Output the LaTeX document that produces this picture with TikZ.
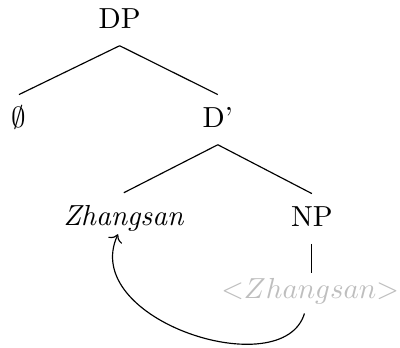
\documentclass[tikz,border=0pt]{standalone}
\usepackage{tikz}
\usetikzlibrary{arrows.meta,positioning,calc}
\definecolor{traceGray}{RGB}{190,190,190}

\begin{document}
\begin{tikzpicture}[
      cat/.style={anchor=base,inner sep=3pt,text height=8pt,text depth=2.9pt},
      trace/.style={text=traceGray},
      branch/.style={line width=0.4pt},
      move/.style={->,line width=0.4pt}
    ]
    \useasboundingbox (0,0) rectangle (4.848,-4.206);
    \node[cat] (dp) at (1.45,-0.34) {DP};
    \node[cat] (null) at (0.23,-1.54) {$\emptyset$};
    \node[cat] (dbar) at (2.64,-1.54) {D'};
    \node[cat] (zh) at (1.50,-2.73) {\textit{Zhangsan}};
    \node[cat] (np) at (3.78,-2.74) {NP};
    \node[cat,trace] (zhtr) at (3.76,-3.62) {${<}Zhangsan{>}$};
    \draw[branch] (dp.south) -- (null.north);
    \draw[branch] (dp.south) -- (dbar.north);
    \draw[branch] (dbar.south) -- (zh.north);
    \draw[branch] (dbar.south) -- (np.north);
    \draw[branch,shorten >=-2.4pt] (np.south) -- (np.south |- zhtr.north);
    \draw[move] ([xshift=-2pt,yshift=1pt]zhtr.south) .. controls (3.43,-4.67) and (0.95,-3.88) .. ([xshift=-2pt,yshift=3pt]zh.south);
  \end{tikzpicture}
\end{document}
